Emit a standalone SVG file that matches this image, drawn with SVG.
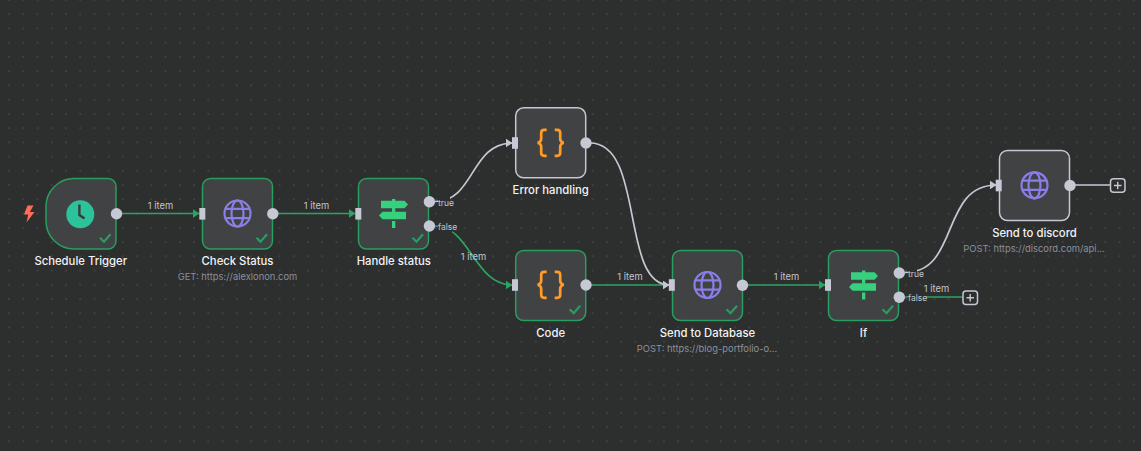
<svg xmlns="http://www.w3.org/2000/svg" width="1141" height="451" viewBox="0 0 1141 451">
<style>
text{font-family:Inter,"Noto Sans","Liberation Sans",sans-serif}
.card{fill:#414244;stroke-width:1.5}
.ok{stroke:#2a9d60}
.idle{stroke:#c5c8d3}
.title{font-size:11.300px;font-weight:500;fill:#f2f2f4;text-anchor:middle}
.sub{font-size:9.400px;fill:#8b909c;text-anchor:middle}
.lbl{font-size:9.400px;fill:#c3c6d0;text-anchor:middle}
.port{font-size:8.500px;fill:#c3c6d0}
.edge{fill:none;stroke-width:1.700}
.g{stroke:#2ba463}
.w{stroke:#c5c8d3}
.h{fill:#c6c9d4}
.plus{fill:#2d2e2e;stroke:#c5c8d3;stroke-width:1.5}
.bg{fill:#2d2e2e}
</style>
<defs>
<pattern id="dots" x="9" y="0" width="14.237" height="14.237" patternUnits="userSpaceOnUse"><rect x="-0.6" y="-0.6" width="1.2" height="1.2" fill="#5a5c5c"/><rect x="13.637" y="-0.6" width="1.2" height="1.2" fill="#5a5c5c"/><rect x="-0.6" y="13.637" width="1.2" height="1.2" fill="#5a5c5c"/><rect x="13.637" y="13.637" width="1.2" height="1.2" fill="#5a5c5c"/></pattern>
<marker id="ag" markerUnits="userSpaceOnUse" markerWidth="8" markerHeight="10" refX="7" refY="5" orient="auto"><path d="M0,0.5 L7,5 L0,9.5Z" fill="#2ba463"/></marker>
<marker id="aw" markerUnits="userSpaceOnUse" markerWidth="8" markerHeight="10" refX="7" refY="5" orient="auto"><path d="M0,0.5 L7,5 L0,9.5Z" fill="#c5c8d3"/></marker>
<g id="globe" fill="none" stroke="#8a7ee8" stroke-width="2.2"><circle r="13"/><ellipse rx="6" ry="13"/><path d="M-12.2,-4.6H12.2M-12.2,4.6H12.2"/></g>
<g id="sign" fill="#36d07e"><path d="M-12.5,-13.3H11L14.5,-9.5L11,-5.7H-12.5Z"/><path d="M-1.5,-15H1.8V-2H-1.5Z"/><path d="M-11,-2.300H12.500V5.300H-11L-14.500,1.500Z"/><path d="M-1.5,7H1.8V14H-1.5Z"/></g>
<g id="braces" fill="none" stroke="#ff9b26" stroke-width="2.7"><path d="M-4,-13H-6.500C-8.700,-13-9.500,-12-9.500,-10V-4C-9.500,-2-11,-.5-13,0C-11,.5-9.500,2-9.500,4V10C-9.500,12-8.700,13-6.500,13H-4"/><path d="M4,-13H6.500C8.700,-13 9.500,-12 9.500,-10V-4C9.500,-2 11,-.5 13,0C11,.5 9.500,2 9.500,4V10C9.500,12 8.700,13 6.500,13H4"/></g>
<path id="check" d="M-16,-11.8L-12,-7.8L-5.5,-15.2" fill="none" stroke="#2a9d60" stroke-width="2.2"/>
<rect id="inp" x="-3" y="-5.8" width="6" height="11.6" fill="#c6c9d4"/>
</defs>
<rect width="1141" height="451" fill="#2d2e2e"/>
<rect width="1141" height="451" fill="url(#dots)"/>

<g id="connectors">
<path class="edge g" marker-end="url(#ag)" d="M120,213.5H199.5"/>
<path class="edge g" marker-end="url(#ag)" d="M276,213.5H355.5"/>
<path class="edge w" marker-end="url(#aw)" d="M435,201.500C475,201.500 470,143 512.500,143"/>
<path class="edge g" marker-end="url(#ag)" d="M435,226C470,226 474,285 512.500,285"/>
<path class="edge g" marker-end="url(#ag)" d="M590,285H669.5"/>
<path class="edge w" marker-end="url(#aw)" d="M590,143C645,143 620,285 669.5,285"/>
<path class="edge g" marker-end="url(#ag)" d="M746,285H825.5"/>
<path class="edge w" marker-end="url(#aw)" d="M905,272.500C960,272.500 940,185 996.500,185"/>
<path class="edge g" d="M905,297H963"/>
<path class="edge w" d="M1073,185H1110"/>
<rect class="bg" x="438" y="196" width="12" height="12"/>
<rect class="bg" x="438" y="221" width="14" height="12"/>
<rect class="bg" x="908" y="267" width="9" height="12"/>
<rect class="bg" x="908" y="292" width="18" height="11"/>
<text class="lbl" x="160.500" y="209">1 item</text>
<text class="lbl" x="316.500" y="209">1 item</text>
<text class="lbl" x="473.500" y="260">1 item</text>
<text class="lbl" x="630" y="280">1 item</text>
<text class="lbl" x="786.500" y="280">1 item</text>
<text class="lbl" x="936.500" y="292">1 item</text>
<text class="port" x="438" y="206">true</text>
<text class="port" x="438" y="230">false</text>
<text class="port" x="908" y="277">true</text>
<text class="port" x="908" y="301">false</text>
<rect class="plus" x="963" y="291" width="14.500" height="13.500" rx="3"/>
<path d="M966.500,297.700H974M970.200,294V301.500" stroke="#c5c8d3" stroke-width="1.4"/>
<rect class="plus" x="1110.500" y="178.800" width="14.500" height="13.500" rx="3"/>
<path d="M1114,185.500H1121.500M1117.700,181.800V189.300" stroke="#c5c8d3" stroke-width="1.4"/>
</g>

<g id="schedule-trigger">
<path class="card ok" d="M74,178.500H108a8,8 0 0 1 8,8V241a8,8 0 0 1-8,8H74a28,28 0 0 1-28-28V206.500a28,28 0 0 1 28-28Z"/>
<circle cx="80.300" cy="214.300" r="14" fill="#2cc39a"/>
<path d="M79.400,204.500V215L84.500,218.500" fill="none" stroke="#3a3b3d" stroke-width="2.400"/>
<path d="M27.500,205.500L24,214.500H28.200L26.500,222.500L34.500,212H29.800L33.500,205.500Z" fill="#ff6d5a"/>
<use href="#check" x="116" y="249.500"/>
<circle class="h" cx="116.500" cy="213.800" r="5.700"/>
<text class="title" x="80.700" y="265">Schedule Trigger</text>
</g>

<g id="check-status">
<rect class="card ok" x="202.500" y="178.500" width="70" height="70.500" rx="8"/>
<use href="#globe" x="237.500" y="213.500"/>
<use href="#check" x="272.500" y="249.500"/>
<use href="#inp" x="202.300" y="213.800"/>
<circle class="h" cx="272.800" cy="213.800" r="5.700"/>
<text class="title" x="237.500" y="265">Check Status</text>
<text class="sub" x="237.500" y="280">GET: https://alexlonon.com</text>
</g>

<g id="handle-status">
<rect class="card ok" x="358.500" y="178.500" width="70" height="70.500" rx="8"/>
<use href="#sign" x="393.500" y="214"/>
<use href="#check" x="428.500" y="249.500"/>
<use href="#inp" x="358.300" y="213.800"/>
<circle class="h" cx="429.400" cy="201.700" r="5.700"/>
<circle class="h" cx="429.400" cy="226" r="5.700"/>
<text class="title" x="393.800" y="265">Handle status</text>
</g>

<g id="error-handling">
<rect class="card idle" x="515.700" y="107.800" width="70" height="70" rx="8"/>
<use href="#braces" x="550.700" y="142.800"/>
<use href="#inp" x="515" y="143"/>
<circle class="h" cx="586" cy="143" r="5.700"/>
<text class="title" x="550.700" y="194">Error handling</text>
</g>

<g id="code">
<rect class="card ok" x="515.700" y="250.500" width="70" height="70" rx="8"/>
<use href="#braces" x="550.700" y="284.800"/>
<use href="#check" x="585.700" y="321"/>
<use href="#inp" x="515" y="285"/>
<circle class="h" cx="586" cy="285" r="5.700"/>
<text class="title" x="550.700" y="337">Code</text>
</g>

<g id="send-to-database">
<rect class="card ok" x="672.500" y="250.500" width="70" height="70" rx="8"/>
<use href="#globe" x="707.500" y="285"/>
<use href="#check" x="742.500" y="321"/>
<use href="#inp" x="671.800" y="285"/>
<circle class="h" cx="742.500" cy="285.300" r="5.700"/>
<text class="title" x="707.500" y="337">Send to Database</text>
<text class="sub" x="707" y="352">POST: https://blog-portfolio-o...</text>
</g>

<g id="if">
<rect class="card ok" x="828.500" y="250.500" width="70" height="70" rx="8"/>
<use href="#sign" x="863.500" y="285.500"/>
<use href="#check" x="898.500" y="321"/>
<use href="#inp" x="828" y="285"/>
<circle class="h" cx="899.300" cy="273" r="5.700"/>
<circle class="h" cx="899.300" cy="297.300" r="5.700"/>
<text class="title" x="863.500" y="337">If</text>
</g>

<g id="send-to-discord">
<rect class="card idle" x="999.500" y="150.500" width="70" height="70" rx="8"/>
<use href="#globe" x="1034.500" y="185.300"/>
<use href="#inp" x="998.700" y="185.500"/>
<circle class="h" cx="1070" cy="185.500" r="5.700"/>
<text class="title" x="1034.500" y="237">Send to discord</text>
<text class="sub" x="1034" y="252">POST: https://discord.com/api...</text>
</g>
</svg>
